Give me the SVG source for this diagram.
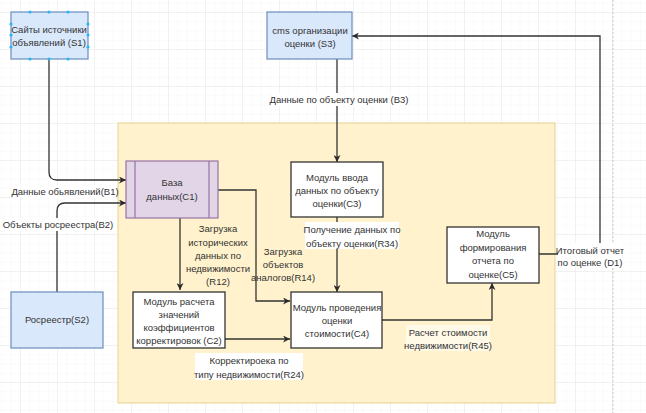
<svg xmlns="http://www.w3.org/2000/svg" width="646" height="413" viewBox="0 0 646 413">
<defs>
<pattern id="minor" width="9.25" height="9.25" patternUnits="userSpaceOnUse" x="21" y="13">
<path d="M9.25 0V9.25H0" fill="none" stroke="#f5f5f5" stroke-width="1"/>
</pattern>
<pattern id="major" width="37" height="37" patternUnits="userSpaceOnUse" x="21" y="13">
<path d="M37 0V37H0" fill="none" stroke="#e8e8e8" stroke-width="1"/>
</pattern>
<marker id="arr" viewBox="0 0 10 10" refX="10" refY="5" markerWidth="7" markerHeight="7" orient="auto" markerUnits="userSpaceOnUse">
<path d="M0,0 L10,5 L0,10 L3,5 Z" fill="#2b2b2b"/>
</marker>
<style>
text{font-family:"Liberation Sans",Arial,sans-serif;font-size:9.5px;fill:#333;text-anchor:middle}
.src{fill:#dae8fc;stroke:#6c8ebf;stroke-width:1.2}
.mod{fill:#fff;stroke:#333;stroke-width:1.3}
.db{fill:#e1d5e7;stroke:#9673a6;stroke-width:1.2}
.ln{fill:none;stroke:#333;stroke-width:1.3}
.lb{fill:#fff}
.h{fill:#29b6f2}
</style>
</defs>
<rect width="646" height="413" fill="#fff"/>
<rect width="646" height="413" fill="url(#minor)"/>
<rect width="646" height="413" fill="url(#major)"/>
<line x1="613" y1="0" x2="613" y2="413" stroke="#c8c8c8" stroke-width="1" stroke-dasharray="2 2"/>

<g id="container">
<rect x="118" y="123" width="437" height="280" fill="#fff2cc" stroke="#e6d28f" stroke-width="1"/>
</g>

<g id="connectors">
<path class="ln" d="M49,59 V172 Q49,180 57,180 H126" marker-end="url(#arr)"/>
<path class="ln" d="M57,292 V211 Q57,203 65,203 H126" marker-end="url(#arr)"/>
<path class="ln" d="M218,190 H256 V301 H290" marker-end="url(#arr)"/>
<path class="ln" d="M180,218 V290" marker-end="url(#arr)"/>
<path class="ln" d="M225,339 H290" marker-end="url(#arr)"/>
<path class="ln" d="M337,59 V162" marker-end="url(#arr)"/>
<path class="ln" d="M337,217 V292" marker-end="url(#arr)"/>
<path class="ln" d="M382,320 H492 V283" marker-end="url(#arr)"/>
<path class="ln" d="M539,254 H600 V36 H352" marker-end="url(#arr)"/>
</g>

<g id="labels">
<rect class="lb" x="13" y="185" width="104" height="13"/>
<text x="65" y="195">Данные обьявлений(B1)</text>
<rect class="lb" x="5" y="218" width="107" height="13"/>
<text x="58" y="228">Объекты росреестра(B2)</text>
<rect class="lb" x="272" y="93" width="134" height="13"/>
<text x="339" y="103">Данные по объекту оценки (В3)</text>
<text x="283" y="255">Загрузка</text>
<text x="283" y="268">объектов</text>
<text x="283" y="281">аналогов(R14)</text>
<text x="218" y="232">Загрузка</text>
<text x="218" y="246">исторических</text>
<text x="218" y="259">данных по</text>
<text x="218" y="272">недвижимости</text>
<text x="218" y="285">(R12)</text>
<rect class="lb" x="305" y="222" width="94" height="27"/>
<text x="352" y="233">Получение данных по</text>
<text x="352" y="247">объекту оценки(R34)</text>
<rect class="lb" x="195" y="353" width="108" height="27"/>
<text x="249" y="364">Корректироека по</text>
<text x="249" y="378">типу недвижимости(R24)</text>
<rect x="406" y="325" width="84" height="26" fill="#fff" fill-opacity="0.55"/>
<text x="448" y="336">Расчет стоимости</text>
<text x="448" y="349">недвижимости(R45)</text>
<rect class="lb" x="558" y="243" width="64" height="25"/>
<text x="590" y="254">Итоговый отчет</text>
<text x="590" y="266">по оценке (D1)</text>
</g>

<g id="S1">
<rect class="src" x="11" y="12" width="77" height="47"/>
<text x="49" y="33">Сайты источники</text>
<text x="49" y="46">объявлений (S1)</text>
<circle class="h" cx="30" cy="12" r="1.6"/><circle class="h" cx="49" cy="12" r="1.6"/><circle class="h" cx="68" cy="12" r="1.6"/>
<circle class="h" cx="30" cy="59" r="1.6"/><circle class="h" cx="49" cy="59" r="1.6"/><circle class="h" cx="68" cy="59" r="1.6"/>
<circle class="h" cx="11" cy="24" r="1.6"/><circle class="h" cx="11" cy="35" r="1.6"/><circle class="h" cx="11" cy="47" r="1.6"/>
<circle class="h" cx="88" cy="24" r="1.6"/><circle class="h" cx="88" cy="35" r="1.6"/><circle class="h" cx="88" cy="47" r="1.6"/>
</g>

<g id="S3">
<rect class="src" x="267" y="12" width="85" height="47"/>
<text x="310" y="34">cms организации</text>
<text x="310" y="47">оценки (S3)</text>
</g>

<g id="S2">
<rect class="src" x="11" y="292" width="92" height="56"/>
<text x="57" y="323">Росреестр(S2)</text>
</g>

<g id="C1">
<rect class="db" x="126" y="161" width="92" height="57"/>
<line x1="135" y1="161" x2="135" y2="218" stroke="#9673a6" stroke-width="1.2"/>
<line x1="209" y1="161" x2="209" y2="218" stroke="#9673a6" stroke-width="1.2"/>
<text x="172" y="186">База</text>
<text x="172" y="200">данных(С1)</text>
</g>

<g id="C2">
<rect class="mod" x="133" y="292" width="92" height="56"/>
<text x="179" y="305">Модуль расчета</text>
<text x="179" y="318">значений</text>
<text x="179" y="331">коэффициентов</text>
<text x="179" y="344">корректировок (С2)</text>
</g>

<g id="C3">
<rect class="mod" x="291" y="162" width="92" height="55"/>
<text x="337" y="181">Модуль ввода</text>
<text x="337" y="194">данных по объекту</text>
<text x="337" y="207">оценки(С3)</text>
</g>

<g id="C4">
<rect class="mod" x="291" y="292" width="91" height="56"/>
<text x="337" y="311">Модуль проведения</text>
<text x="337" y="324">оценки</text>
<text x="337" y="337">стоимости(С4)</text>
</g>

<g id="C5">
<rect class="mod" x="447" y="227" width="92" height="56"/>
<text x="493" y="237">Модуль</text>
<text x="493" y="251">формирования</text>
<text x="493" y="264">отчета по</text>
<text x="493" y="278">оценке(С5)</text>
</g>
</svg>
